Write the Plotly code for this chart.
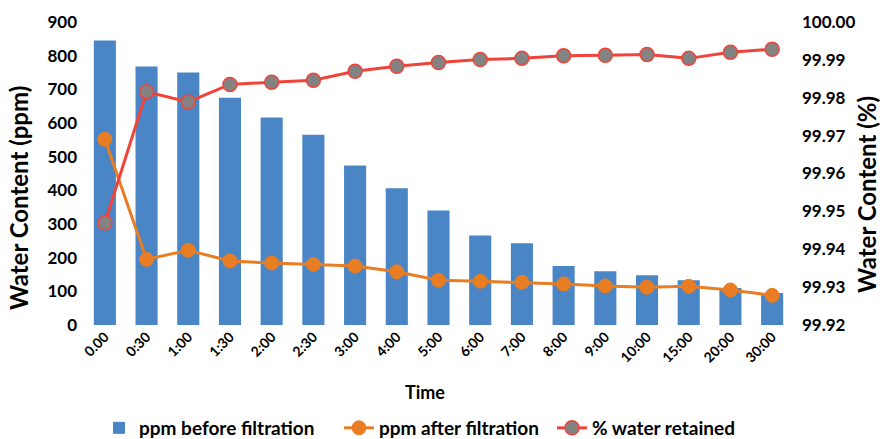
import plotly.graph_objects as go

times = ["0.00", "0:30", "1:00", "1:30", "2:00", "2:30", "3:00", "4:00", "5:00",
         "6:00", "7:00", "8:00", "9:00", "10:00", "15:00", "20:00", "30:00"]
ppm_before = [845, 768, 750, 675, 616, 565, 474, 406, 340, 266, 243, 175, 160, 148, 133, 110, 95]
ppm_after = [552, 195, 222, 190, 184, 180, 175, 158, 133, 130, 127, 122, 116, 112, 115, 104, 88]
retained = [99.9470, 99.9816, 99.9789, 99.9835, 99.9841, 99.9846, 99.9870, 99.9883, 99.9893,
            99.9901, 99.9904, 99.9911, 99.9912, 99.9914, 99.9904, 99.9920, 99.9928]

FONT = "Lato"
W, H = 880, 439
L, R, T, B = 84, 87, 22, 114
PW, PH = W - L - R, H - T - B


def px_x(x):
    return (x - L) / PW


def px_y(y):
    return (H - B - y) / PH


fig = go.Figure()
fig.add_trace(go.Bar(x=times, y=ppm_before, name="ppm before filtration", legend="legend",
                     marker=dict(color="#4A86C6", line=dict(width=0))))
fig.add_trace(go.Scatter(x=times, y=ppm_after, name="ppm after filtration", mode="lines+markers",
                         legend="legend2",
                         line=dict(color="#E87D24", width=3),
                         marker=dict(color="#E87D24", size=14, line=dict(color="#E87D24", width=1))))
fig.add_trace(go.Scatter(x=times, y=retained, name="% water retained", mode="lines+markers", yaxis="y2",
                         legend="legend3",
                         line=dict(color="#F0443A", width=3),
                         marker=dict(color="#838383", size=14, line=dict(color="#F0443A", width=1.5))))

title_font = dict(family=FONT, size=24, weight="bold", color="black")
legend_font = dict(family=FONT, size=19, color="black", weight="bold")


def legend_at(xpx):
    return dict(orientation="h", x=px_x(xpx), xanchor="left", y=px_y(428), yanchor="middle",
                font=legend_font, itemwidth=30, bgcolor="rgba(0,0,0,0)")


fig.update_layout(
    width=W, height=H,
    margin=dict(l=L, r=R, t=T, b=B, autoexpand=False),
    paper_bgcolor="white", plot_bgcolor="white",
    font=dict(family=FONT, color="black", size=14),
    bargap=0.47,
    showlegend=True,
    legend=legend_at(99),
    legend2=legend_at(339),
    legend3=legend_at(552),
    xaxis=dict(type="category", range=[-0.5, len(times) - 0.5], tickangle=-45,
               showgrid=False, showline=False, zeroline=False,
               ticks="", automargin=False,
               tickfont=dict(family=FONT, size=14, weight="bold", color="black")),
    yaxis=dict(range=[0, 900], dtick=100, showgrid=False, showline=False, zeroline=False,
               ticks="", automargin=False, ticklabelstandoff=6,
               tickfont=dict(family=FONT, size=17, weight="bold", color="black")),
    yaxis2=dict(range=[99.92, 100.00], dtick=0.01, tickformat=".2f", overlaying="y", side="right",
                showgrid=False, showline=False, zeroline=False, ticks="", automargin=False,
                ticklabelstandoff=8,
                tickfont=dict(family=FONT, size=17, weight="bold", color="black")),
    annotations=[
        dict(text="Water Content (ppm)", xref="paper", yref="paper", x=px_x(19), y=px_y(198),
             textangle=-90, showarrow=False, font=title_font, xanchor="center", yanchor="middle"),
        dict(text="Water Content (%)", xref="paper", yref="paper", x=px_x(866), y=px_y(195),
             textangle=-90, showarrow=False, font=title_font, xanchor="center", yanchor="middle"),
        dict(text="Time", xref="paper", yref="paper", x=px_x(425), y=px_y(392),
             showarrow=False, font=dict(family=FONT, size=18, weight="bold", color="black"),
             xanchor="center", yanchor="middle"),
    ],
)

fig.write_html("out.html", config={"displayModeBar": False},
               post_script="document.body.style.margin='0';document.body.style.overflow='hidden';")
